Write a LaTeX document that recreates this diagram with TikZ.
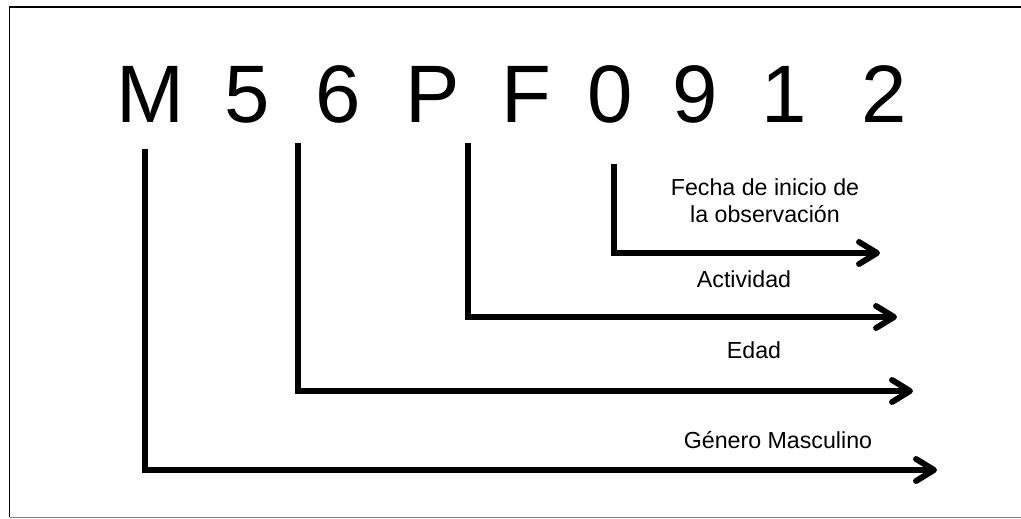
\documentclass[tikz,border=0pt]{standalone}
\usepackage{fontspec}
\setmainfont{Liberation Sans}
\usetikzlibrary{arrows.meta}

\begin{document}
\begin{tikzpicture}[x=0.025cm, y=-0.025cm,
  letter/.style={anchor=base, inner sep=0pt, font=\fontsize{58}{60}\selectfont},
  desc/.style={anchor=base, inner sep=0pt, align=center, font=\fontsize{16.5}{19}\selectfont},
  link/.style={line width=4.2pt, line join=miter, -{Straight Barb[length=4.5mm, width=5.5mm, round]}}]
\useasboundingbox (0,0) rectangle (1021,519);
% frame
\draw [line width=1.4pt] (1021,7) -- (9.5,7) -- (9.5,517);
\draw [gray, line width=0.6pt] (9.5,517) -- (1021,517);
% code letters
\foreach \c/\x in {M/150.5, 5/247.5, 6/338, P/433, F/526, 0/610, 9/695, 1/784, 2/884}
\node [letter] (c\c) at (\x,123) {\c};
% line ends
\coordinate (mtop) at (145,149);
\coordinate (mend) at (937,470);
\coordinate (etop) at (298,143);
\coordinate (eend) at (913,391);
\coordinate (atop) at (468,143);
\coordinate (aend) at (897,317);
\coordinate (ftop) at (614,164);
\coordinate (fend) at (880,253);
% connectors
\draw [link] (mtop) |- (mend);
\draw [link] (etop) |- (eend);
\draw [link] (atop) |- (aend);
\draw [link] (ftop) |- (fend);
% meanings
\node [desc] (fecha) at (765,222) {Fecha de inicio de\\la observación};
\node [desc] (actividad) at (744,287) {Actividad};
\node [desc] (edad) at (754,358) {Edad};
\node [desc] (genero) at (778,448) {Género Masculino};
\end{tikzpicture}
\end{document}
